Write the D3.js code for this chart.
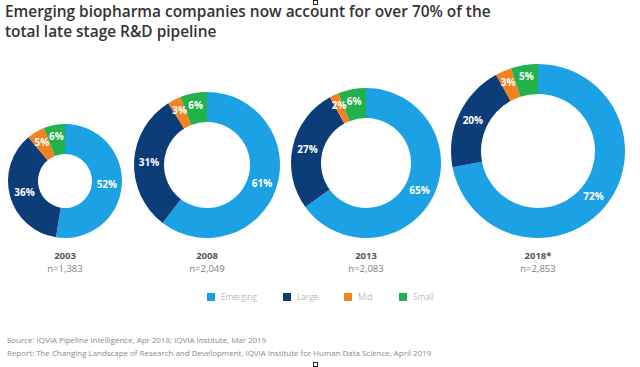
<!DOCTYPE html>
<html>
<head>
<meta charset="utf-8">
<script src="https://cdn.jsdelivr.net/npm/d3@7"></script>
<style>
  html, body { margin: 0; padding: 0; background: #fff; }
  svg { display: block; }
</style>
</head>
<body>
<svg id="chart" width="640" height="367"></svg>
<script>
// ---- data ----
const years = ["2003", "2008", "2013", "2018*"];
const nLabels = ["n=1,383", "n=2,049", "n=2,083", "n=2,853"];
const segments = ["Emerging", "Large", "Mid", "Small"];
const emerging = [52, 61, 65, 72];
const large = [36, 31, 27, 20];
const mid = [5, 3, 2, 3];
const small = [6, 6, 6, 5];
const titleLines = [
  "Emerging biopharma companies now account for over 70% of the",
  "total late stage R&D pipeline"
];
const sourceLines = [
  "Source: IQVIA Pipeline Intelligence, Apr 2018; IQVIA Institute, Mar 2019",
  "Report: The Changing Landscape of Research and Development, IQVIA Institute for Human Data Science, April 2019"
];

// ---- layout ----
const centersX = [65, 207, 366, 538];
const outerR = [57, 73, 75, 87];
const ringW = 30;
const baseY = 238;
const colors = d3.scaleOrdinal().domain(segments)
  .range(["#1ca2e4", "#0c3d78", "#f5821f", "#22b14c"]);

const svg = d3.select("#chart");
const font = "'Open Sans', 'Noto Sans', sans-serif";

// title (one text element, two lines)
const title = svg.append("text")
  .attr("font-family", font).attr("font-weight", 600)
  .attr("font-size", 17).attr("fill", "#333");
titleLines.forEach((t, i) => {
  title.append("tspan")
    .attr("x", 5).attr("y", 17 + i * 19.5)
    .text(t);
});
{
  const first = title.select("tspan").node();
  const w = first.getComputedTextLength();
  title.attr("font-size", 17 * 486 / w);
}

const pie = d3.pie().sort(null).value(d => d.value);

years.forEach((yr, i) => {
  const rows = [
    { key: "Emerging", value: emerging[i] },
    { key: "Large", value: large[i] },
    { key: "Mid", value: mid[i] },
    { key: "Small", value: small[i] }
  ];
  const R = outerR[i], r = R - ringW;
  const cx = centersX[i], cy = baseY - R;
  const arc = d3.arc().innerRadius(r).outerRadius(R);
  const g = svg.append("g").attr("transform", `translate(${cx},${cy})`);
  const arcs = pie(rows);
  g.selectAll("path").data(arcs).join("path")
    .attr("d", arc)
    .attr("fill", d => colors(d.data.key));
  g.selectAll("text").data(arcs).join("text")
    .attr("transform", d => {
      const a = (d.startAngle + d.endAngle) / 2;
      const rr = d.data.value < 7 ? (r + R) / 2 + 3 : (r + R) / 2;
      return `translate(${rr * Math.sin(a)},${-rr * Math.cos(a)})`;
    })
    .attr("text-anchor", "middle").attr("dy", "0.35em")
    .attr("font-family", font).attr("font-weight", 700)
    .attr("font-size", 10).attr("fill", "#fff")
    .text(d => d.data.value + "%");

  svg.append("text")
    .attr("x", cx).attr("y", 259)
    .attr("text-anchor", "middle")
    .attr("font-family", font).attr("font-weight", 700)
    .attr("font-size", 9.5).attr("fill", "#555")
    .text(yr);
  svg.append("text")
    .attr("x", cx).attr("y", 272)
    .attr("text-anchor", "middle")
    .attr("font-family", font).attr("font-weight", 400)
    .attr("font-size", 9.5).attr("fill", "#808080")
    .text(nLabels[i]);
});

// legend
const legendX = [207, 283, 344, 399];
const legend = svg.append("g");
segments.forEach((s, i) => {
  legend.append("rect")
    .attr("x", legendX[i]).attr("y", 293)
    .attr("width", 8).attr("height", 8)
    .attr("fill", colors(s));
  legend.append("text")
    .attr("x", legendX[i] + 14).attr("y", 297).attr("dy", "0.35em")
    .attr("font-family", font).attr("font-weight", 300)
    .attr("font-size", 8.5).attr("fill", "#9a9a9a")
    .text(s);
});

// source
const src = svg.append("g");
sourceLines.forEach((t, i) => {
  src.append("text")
    .attr("x", 7).attr("y", 343 + i * 13)
    .attr("font-family", font).attr("font-weight", 400)
    .attr("font-size", 7.5).attr("fill", "#8a8a8a")
    .text(t);
});
{
  const n = src.selectAll("text").nodes()[1];
  const w = n.getComputedTextLength();
  src.selectAll("text").attr("font-size", 7.5 * 425 / w);
}

// small cursor artifacts from screenshot
svg.append("rect").attr("x", 313.5).attr("y", 0.5).attr("width", 4).attr("height", 4)
  .attr("fill", "none").attr("stroke", "#222").attr("stroke-width", 1);
svg.append("rect").attr("x", 313.5).attr("y", 362.5).attr("width", 4).attr("height", 4)
  .attr("fill", "none").attr("stroke", "#222").attr("stroke-width", 1);
</script>
</body>
</html>
